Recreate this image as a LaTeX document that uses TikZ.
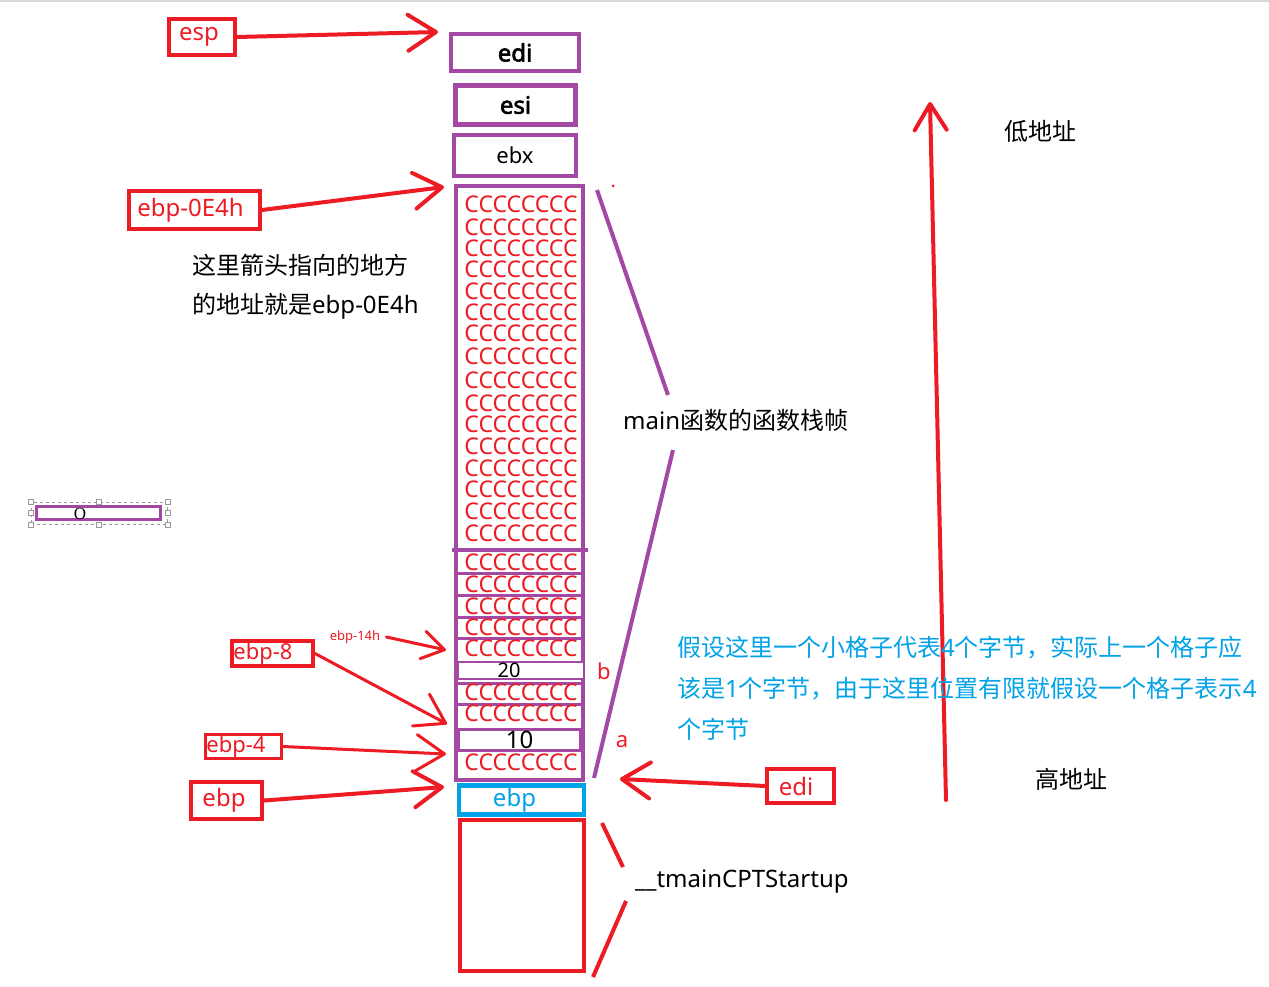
\documentclass[tikz,border=0pt]{standalone}
\usepackage{fontspec}
\setmainfont{Noto Sans}
\newfontfamily\cjk{Noto Sans CJK SC}
\newfontfamily\serifo{Liberation Serif}
\newfontfamily\boldf{Noto Sans}[FakeBold=2.5]
\usetikzlibrary{arrows.meta}
\definecolor{pred}{HTML}{ED1C24}
\definecolor{ppur}{HTML}{A349A4}
\definecolor{pblue}{HTML}{00A2E8}
\newcommand\fsz[1]{\fontsize{#1}{#1}\selectfont}
\newcommand\padr[1]{\rule{#1}{0pt}}
\begin{document}
\begin{tikzpicture}[x=1pt,y=-1pt,
  redbox/.style={draw=pred,line width=4pt,text=pred,inner sep=0pt},
  purbox/.style={draw=ppur,line width=4pt,inner sep=0pt},
  rarrow/.style={draw=pred,line width=4pt,line cap=round,-{Straight Barb[length=28pt,width=36pt,round]}},
  crow/.style={text=pred,font=\fsz{23},inner sep=0pt},
  txt/.style={inner sep=0pt,font=\fsz{24}},
  pline/.style={draw=ppur,line width=3pt},
  handle/.style={draw=gray!80,fill=white,line width=0.8pt,minimum size=5pt,inner sep=0pt}]
\useasboundingbox (0,0) rectangle (1269,987);
\fill[white] (0,0) rectangle (1269,987);
\draw[gray!30,line width=2pt] (0,1) -- (1269,1);

% top register boxes
\node[purbox,minimum width=128pt,minimum height=37pt,font=\fsz{24}\boldf] (edi) at (515,52.5) {edi};
\node[purbox,line width=5pt,minimum width=120pt,minimum height=39pt,font=\fsz{24}\boldf] (esi) at (515.5,105) {esi};
\node[purbox,minimum width=122pt,minimum height=41pt,font=\fsz{22}] (ebx) at (515,155.5) {ebx};

% stack column
\node[purbox,minimum width=127.5pt,minimum height=593.5pt] (col) at (519.25,483.25) {};
\draw[draw=ppur,line width=4pt] (452,550) -- (588,550);
\foreach \y in {573,595,617,638,683,704}
  \draw[pline] (455.5,\y) -- (583,\y);
\foreach \y [count=\i] in {204,227,248,269,291,312,333,356,380,403,424,446,468,489,511,533,562,584,606,627,648,692,713,762}
  \node[crow] (c\i) at (521,\y) {CCCCCCCC};
\node[draw=ppur,line width=2pt,fill=white,minimum width=126pt,minimum height=17pt,inner sep=0pt,font=\fsz{20}] (v20) at (521,670) {20\padr{24pt}};
\node[draw=ppur,line width=2.5pt,fill=white,minimum width=122pt,minimum height=21pt,inner sep=0pt,font=\fsz{24}] (v10) at (519.5,740) {10};
\node[draw=pblue,line width=4.5pt,minimum width=125pt,minimum height=29pt,inner sep=0pt,text=pblue,font=\fsz{24}] (ebpb) at (521.5,800) {ebp\padr{14pt}};
\node[draw=pred,line width=4pt,minimum width=124pt,minimum height=151pt,inner sep=0pt] (start) at (522,895) {};

% pointer boxes
\node[redbox,minimum width=66pt,minimum height=36pt,font=\fsz{24}] (esp) at (202,37) {esp\padr{6pt}};
\node[redbox,minimum width=131pt,minimum height=38pt,font=\fsz{24}] (e0e4) at (194.5,210) {ebp-0E4h\padr{8pt}};
\node[text=pred,font=\fsz{13},inner sep=0pt] (e14) at (355,637) {ebp-14h};
\node[redbox,minimum width=81pt,minimum height=25pt,font=\fsz{22}] (e8) at (272.5,653.5) {ebp-8\padr{19pt}};
\node[redbox,line width=3pt,minimum width=76pt,minimum height=24pt,font=\fsz{22}] (e4) at (243.5,746.5) {ebp-4\padr{15pt}};
\node[redbox,minimum width=71pt,minimum height=37pt,font=\fsz{24}] (ebpl) at (226.5,800.5) {ebp\padr{5pt}};
\node[redbox,minimum width=67pt,minimum height=34pt,font=\fsz{24}] (edir) at (800.5,786) {edi\padr{9pt}};

% arrow tips
\coordinate (tEsp) at (438,32);
\coordinate (tE0) at (444,187);
\coordinate (tE14) at (446,650);
\coordinate (tE8) at (447,724);
\coordinate (tE4) at (446,754);
\coordinate (tEbp) at (444,787);
\coordinate (tEdi) at (620,779);
\coordinate (bigS) at (946,800);
\coordinate (bigT) at (930,102);

\draw[rarrow] (esp.east) -- (tEsp);
\draw[rarrow] (e0e4.east) -- (tE0);
\draw[rarrow,line width=3pt,-{Straight Barb[length=22pt,width=28pt,round]}] (e14.east) ++(6,0) -- (tE14);
\draw[rarrow,line width=3pt] (e8.east) -- (tE8);
\draw[rarrow,line width=3pt] (e4.east) -- (tE4);
\draw[rarrow] (ebpl.east) -- (tEbp);
\draw[rarrow] (edir.west) -- (tEdi);
\draw[rarrow,-{Straight Barb[length=26pt,width=32pt,round]}] (bigS) -- (bigT);

% brace-like lines
\coordinate (pA) at (597,190);
\coordinate (pB) at (668,395);
\coordinate (pC) at (673,450);
\coordinate (pD) at (594,778);
\draw[draw=ppur,line width=4pt] (pA) -- (pB);
\draw[draw=ppur,line width=4pt] (pC) -- (pD);
\coordinate (rA) at (602,823);
\coordinate (rB) at (623,867);
\coordinate (rC) at (626,901);
\coordinate (rD) at (593,977);
\draw[draw=pred,line width=4pt] (rA) -- (rB);
\draw[draw=pred,line width=4pt] (rC) -- (rD);
\fill[pred] (613,186) circle (1.5pt);

% labels
\node[text=pred,font=\fsz{22},inner sep=0pt] (lb) at (604,671) {b};
\node[text=pred,font=\fsz{22},inner sep=0pt] (la) at (622,742) {a};
\node[txt,anchor=west,font=\fsz{24}\cjk] (n1) at (192,265) {这里箭头指向的地方};
\node[txt,anchor=west] (n2) at (192,306) {{\cjk 的地址就是}ebp-0E4h};
\node[txt,anchor=west] (mainf) at (623,420) {main{\cjk 函数的函数栈帧}};
\node[txt,anchor=west] (tm) at (635,882) {\_\_tmainCPTStartup};
\node[txt,font=\fsz{24}\cjk] (low) at (1040,131) {低地址};
\node[txt,font=\fsz{24}\cjk] (high) at (1071,779) {高地址};
\node[txt,anchor=west,text=pblue] (b1) at (677,648) {{\cjk 假设这里一个小格子代表}4{\cjk 个字节，实际上一个格子应}};
\node[txt,anchor=west,text=pblue] (b2) at (677,689) {{\cjk 该是}1{\cjk 个字节，由于这里位置有限就假设一个格子表示}4};
\node[txt,anchor=west,text=pblue] (b3) at (677,729) {{\cjk 个字节}};

% selected small box
\node[draw=gray!80,dashed,line width=1pt,minimum width=136pt,minimum height=22pt,inner sep=0pt] (sel) at (99,513) {};
\node[draw=ppur,line width=3pt,minimum width=124pt,minimum height=13pt,inner sep=0pt] (obox) at (98.5,513) {};
\node[font=\fsz{17}\serifo,inner sep=0pt] (o) at (80,514) {O};
\foreach \p [count=\i] in {north west,north,north east,west,east,south west,south,south east}
  \node[handle] (h\i) at (sel.\p) {};
\end{tikzpicture}
\end{document}
